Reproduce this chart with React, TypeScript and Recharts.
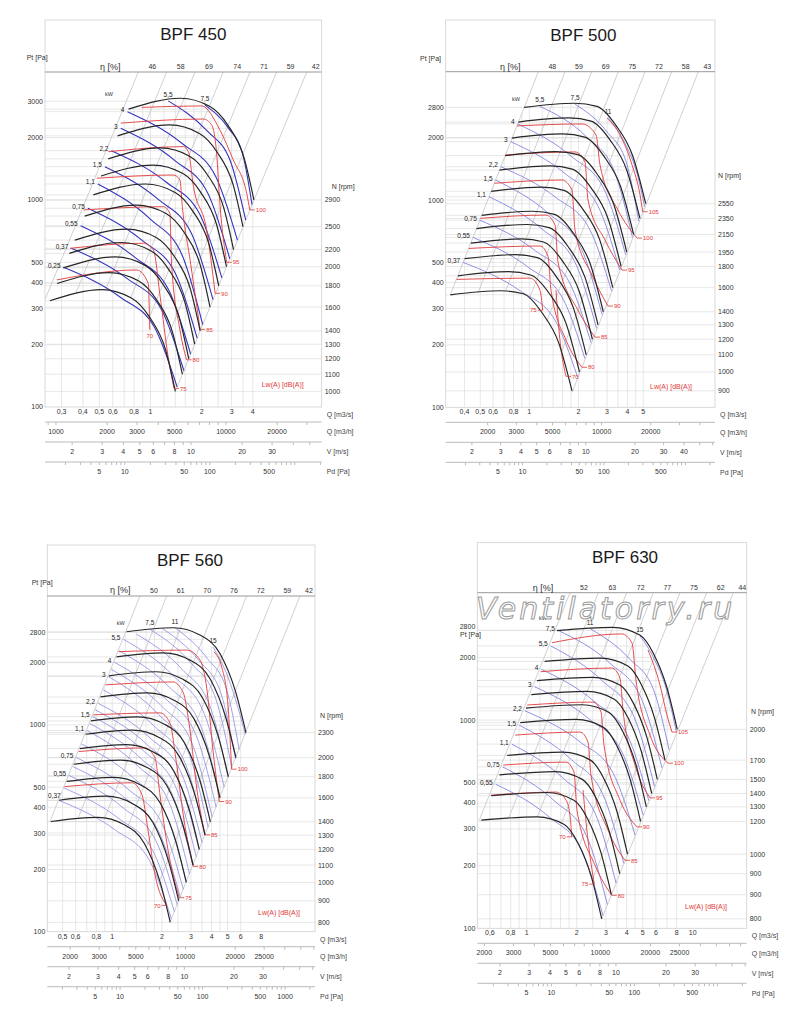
import React from 'react';
import { ComposedChart, Line, XAxis, YAxis } from 'recharts';

type Pt = [number, number];
type Curve = Pt[];

// ---------- BPF 450 ----------
const bpf450Rpm = ['2900', '2500', '2200', '2000', '1800', '1600', '1400', '1300', '1200', '1100', '1000'];
const bpf450Fan: Curve[] = [
  [[0.743, 2745], [1.5, 3100], [2.25, 2820], [2.85, 2300], [3.55, 1600], [4.06, 1000]],
  [[0.64, 2040], [1.293, 2303], [1.94, 2095], [2.457, 1709], [3.06, 1189], [3.5, 743]],
  [[0.564, 1580], [1.138, 1784], [1.707, 1623], [2.162, 1324], [2.693, 921], [3.08, 576]],
  [[0.512, 1306], [1.035, 1474], [1.552, 1341], [1.966, 1094], [2.448, 761], [2.8, 476]],
  [[0.461, 1058], [0.931, 1194], [1.397, 1087], [1.769, 886], [2.204, 616], [2.52, 385]],
  [[0.41, 836], [0.828, 944], [1.241, 858], [1.572, 700], [1.959, 487], [2.24, 304]],
  [[0.359, 640], [0.724, 723], [1.086, 657], [1.376, 536], [1.714, 373], [1.96, 233]],
  [[0.333, 552], [0.672, 623], [1.009, 567], [1.278, 462], [1.591, 322], [1.82, 201]],
  [[0.307, 470], [0.621, 531], [0.931, 483], [1.179, 394], [1.469, 274], [1.68, 171]],
  [[0.282, 395], [0.569, 446], [0.853, 406], [1.081, 331], [1.347, 230], [1.54, 144]],
  [[0.256, 326], [0.517, 369], [0.776, 335], [0.983, 273], [1.224, 190], [1.4, 119]],
];
const bpf450Kw = ['7,5', '5,5', '4', '3', '2,2', '1,5', '1,1', '0,75', '0,55', '0,37', '0,25'];
const bpf450Power: Curve[] = [
  [[2.09, 2870], [2.875, 2222], [3.483, 1674], [3.956, 950]],
  [[1.27, 3010], [2.147, 2161], [2.942, 1552], [3.63, 800]],
  [[0.732, 2670], [1.542, 1868], [2.411, 1307], [3.247, 640]],
  [[0.668, 2220], [1.398, 1545], [2.178, 1075], [2.927, 520]],
  [[0.589, 1730], [1.245, 1214], [1.95, 852], [2.63, 420]],
  [[0.539, 1448], [1.121, 1000], [1.74, 691], [2.332, 330]],
  [[0.49, 1195], [0.997, 808], [1.527, 547], [2.029, 250]],
  [[0.428, 912], [0.897, 636], [1.4, 443], [1.882, 215]],
  [[0.388, 751], [0.817, 525], [1.278, 368], [1.722, 180]],
  [[0.342, 584], [0.733, 416], [1.159, 296], [1.572, 150]],
  [[0.308, 473], [0.665, 339], [1.055, 243], [1.435, 125]],
];
const bpf450Lw = ['100', '95', '90', '85', '80', '75', '70'];
const bpf450Noise: Curve[] = [
  [[0.888, 2800], [2.0, 2845], [2.56, 2180], [3.07, 1560], [3.68, 1077], [3.84, 895]],
  [[0.668, 2350], [2.045, 2460], [2.29, 2300], [2.45, 1680], [2.56, 963], [2.81, 500]],
  [[0.565, 1710], [1.56, 1810], [1.67, 1710], [1.79, 1160], [2.14, 716], [2.4, 354]],
  [[0.483, 1273], [1.36, 1320], [1.49, 1250], [1.54, 928], [1.71, 513], [1.96, 237]],
  [[0.403, 895], [1.19, 928], [1.3, 862], [1.33, 495], [1.49, 236], [1.63, 169]],
  [[0.336, 584], [0.907, 618], [1.04, 573], [1.14, 341], [1.27, 175], [1.375, 123]],
  [[0.281, 411], [0.83, 459], [0.97, 396], [0.99, 236]],
];
const bpf450Eta = ['46', '58', '69', '74', '71', '59', '42'];
const bpf450EtaLines: Curve[] = [
  [[0.848, 4150], [0.24, 331]], [[1.245, 4150], [0.365, 357]], [[1.827, 4150], [0.545, 370]],
  [[2.68, 4150], [0.765, 338]], [[3.85, 4150], [0.98, 268]], [[5.52, 4150], [1.21, 200]], [[8.3, 4150], [1.4, 119]],
];
const bpf450QTicks = [0.3, 0.4, 0.5, 0.6, 0.8, 1, 2, 3, 4];
const bpf450PTicks = [100, 200, 300, 400, 500, 1000, 2000, 3000];
const bpf450QhTicks = [1000, 2000, 3000, 5000, 10000, 20000];
const bpf450QhLabels = ['1000', '2000', '3000', '5000', '10000', '20000'];
const bpf450VTicks = [2, 3, 4, 5, 6, 8, 10, 20, 30];
const bpf450PdTicks = [5, 10, 50, 100, 500];

// ---------- BPF 500 ----------
const bpf500Rpm = ['2550', '2350', '2150', '1950', '1800', '1600', '1400', '1300', '1200', '1100', '1000', '900'];
const bpf500Fan: Curve[] = [
  [[0.93, 2800], [1.9, 2930], [2.6, 2830], [3.4, 2290], [4.3, 1640], [5.18, 960]],
  [[0.857, 2378], [1.751, 2488], [2.396, 2404], [3.133, 1945], [3.963, 1393], [4.774, 815]],
  [[0.784, 1991], [1.602, 2083], [2.192, 2012], [2.867, 1628], [3.625, 1166], [4.367, 682]],
  [[0.711, 1637], [1.453, 1713], [1.988, 1655], [2.6, 1339], [3.288, 959], [3.961, 561]],
  [[0.656, 1395], [1.341, 1460], [1.835, 1410], [2.4, 1141], [3.035, 817], [3.657, 478]],
  [[0.584, 1102], [1.192, 1154], [1.632, 1114], [2.134, 902], [2.698, 646], [3.25, 378]],
  [[0.511, 844], [1.043, 883], [1.427, 853], [1.867, 690], [2.361, 494], [2.844, 289]],
  [[0.474, 728], [0.969, 762], [1.325, 736], [1.733, 595], [2.192, 426], [2.641, 250]],
  [[0.438, 620], [0.894, 649], [1.224, 627], [1.6, 507], [2.024, 363], [2.438, 213]],
  [[0.401, 521], [0.82, 545], [1.122, 527], [1.467, 426], [1.855, 305], [2.235, 179]],
  [[0.365, 431], [0.745, 451], [1.02, 435], [1.333, 352], [1.686, 252], [2.032, 148]],
  [[0.328, 349], [0.671, 365], [0.918, 353], [1.2, 285], [1.517, 204], [1.828, 120]],
];
const bpf500Kw = ['11', '7,5', '5,5', '4', '3', '2,2', '1,5', '1,1', '0,75', '0,55', '0,37'];
const bpf500Power: Curve[] = [
  [[3.04, 2500], [3.94, 1820], [4.6, 1330], [5.1, 930]],
  [[1.91, 2900], [2.995, 2133], [3.925, 1532], [4.698, 790]],
  [[1.16, 2830], [2.232, 2024], [3.305, 1393], [4.294, 660]],
  [[0.848, 2330], [1.819, 1620], [2.875, 1127], [3.902, 545]],
  [[0.768, 1913], [1.66, 1340], [2.634, 938], [3.585, 460]],
  [[0.669, 1448], [1.462, 1026], [2.336, 727], [3.193, 365]],
  [[0.621, 1249], [1.318, 859], [2.07, 591], [2.797, 280]],
  [[0.566, 1037], [1.211, 719], [1.91, 499], [2.589, 240]],
  [[0.497, 800], [1.091, 569], [1.748, 405], [2.393, 205]],
  [[0.451, 660], [0.994, 472], [1.598, 337], [2.192, 172]],
  [[0.393, 500], [0.882, 364], [1.431, 265], [1.978, 140]],
];
const bpf500Lw = ['105', '100', '95', '90', '85', '80', '75', '70'];
const bpf500Noise: Curve[] = [
  [[3.0, 2480], [3.6, 2061], [4.27, 1476], [4.78, 1057], [4.96, 878]],
  [[0.84, 2278], [2.105, 2328], [2.566, 2061], [2.715, 1476], [3.5, 895], [4.58, 655]],
  [[0.714, 1650], [1.908, 1706], [2.196, 1526], [2.292, 1000], [2.913, 641], [3.705, 459]],
  [[0.61, 1204], [1.587, 1249], [1.828, 1118], [1.908, 716], [2.425, 434], [3.04, 308]],
  [[0.502, 816], [1.266, 846], [1.438, 757], [1.5, 502], [1.99, 294], [2.53, 218]],
  [[0.425, 584], [1.163, 600], [1.302, 536], [1.359, 367], [1.68, 211], [2.105, 156]],
  [[0.3575, 414], [1.01, 420], [1.163, 367], [1.208, 294]],
  [[1.458, 367], [1.521, 236], [1.68, 141]],
];
const bpf500Eta = ['48', '59', '69', '75', '72', '58', '43'];
const bpf500EtaLines: Curve[] = [
  [[1.136, 4160], [0.328, 349]], [[1.656, 4160], [0.485, 357]], [[2.415, 4160], [0.715, 364]],
  [[3.516, 4160], [1.0, 335]], [[5.127, 4160], [1.28, 260]], [[7.475, 4160], [1.58, 186]], [[10.89, 4160], [1.83, 118]],
];
const bpf500QTicks = [0.4, 0.5, 0.6, 0.8, 1, 2, 3, 4, 5];
const bpf500PTicks = [100, 200, 300, 400, 500, 1000, 2000, 2800];
const bpf500QhTicks = [2000, 3000, 5000, 10000, 20000];
const bpf500QhLabels = ['2000', '3000', '5000', '10000', '20000'];
const bpf500VTicks = [2, 3, 4, 5, 6, 8, 10, 20, 30, 40];
const bpf500PdTicks = [5, 10, 50, 100, 500];

// ---------- BPF 560 ----------
const bpf560Rpm = ['2300', '2000', '1800', '1600', '1400', '1300', '1200', '1100', '1000', '900', '800'];
const bpf560Fan: Curve[] = [
  [[1.22, 2820], [2.35, 2950], [3.4, 2720], [4.5, 2210], [5.6, 1440], [6.46, 918]],
  [[1.061, 2132], [2.044, 2230], [2.957, 2057], [3.913, 1671], [4.87, 1089], [5.618, 694]],
  [[0.955, 1727], [1.839, 1807], [2.661, 1666], [3.522, 1354], [4.383, 882], [5.056, 562]],
  [[0.849, 1365], [1.635, 1428], [2.365, 1316], [3.131, 1069], [3.896, 697], [4.494, 444]],
  [[0.743, 1045], [1.43, 1093], [2.07, 1008], [2.739, 819], [3.409, 534], [3.932, 340]],
  [[0.69, 901], [1.328, 943], [1.922, 869], [2.543, 706], [3.165, 460], [3.651, 293]],
  [[0.636, 768], [1.226, 803], [1.774, 740], [2.348, 602], [2.922, 392], [3.37, 250]],
  [[0.584, 645], [1.124, 675], [1.626, 622], [2.152, 505], [2.678, 329], [3.09, 210]],
  [[0.53, 533], [1.022, 558], [1.478, 514], [1.957, 418], [2.435, 272], [2.809, 173]],
  [[0.477, 432], [0.92, 452], [1.33, 416], [1.761, 338], [2.191, 220], [2.528, 141]],
  [[0.424, 341], [0.817, 357], [1.183, 329], [1.565, 267], [1.948, 174], [2.247, 111]],
];
const bpf560Kw = ['15', '11', '7,5', '5,5', '4', '3', '2,2', '1,5', '1,1', '0,75', '0,55', '0,37'];
const bpf560Power: Curve[] = [
  [[4.08, 2380], [5.0, 1720], [5.8, 1200], [6.396, 900]],
  [[2.4, 2950], [3.756, 2102], [4.913, 1497], [5.878, 760]],
  [[1.69, 2900], [2.996, 1992], [4.223, 1350], [5.309, 620]],
  [[1.17, 2594], [2.362, 1719], [3.599, 1139], [4.767, 500]],
  [[1.03, 2009], [2.096, 1342], [3.21, 896], [4.264, 400]],
  [[0.95, 1711], [1.904, 1125], [2.888, 740], [3.814, 320]],
  [[0.82, 1273], [1.695, 864], [2.62, 586], [3.503, 270]],
  [[0.761, 1097], [1.569, 742], [2.421, 502], [3.233, 230]],
  [[0.704, 939], [1.439, 630], [2.208, 423], [2.939, 190]],
  [[0.606, 695], [1.279, 481], [2.001, 333], [2.697, 160]],
  [[0.548, 569], [1.165, 397], [1.832, 277], [2.477, 135]],
  [[0.477, 431], [1.044, 310], [1.671, 223], [2.286, 115]],
];
// unlabelled blue lines lying between the labelled ones
const bpf560PowerExtra: Curve[] = [
  [[2.014, 2925], [3.355, 2046], [4.555, 1422], [5.586, 686]],
  [[1.406, 2743], [2.66, 1850], [3.899, 1240], [5.031, 557]],
  [[1.098, 2283], [2.225, 1519], [3.399, 1010], [4.509, 447]],
  [[0.989, 1854], [1.998, 1229], [3.045, 814], [4.033, 358]],
  [[0.883, 1476], [1.796, 986], [2.751, 659], [3.655, 294]],
  [[0.79, 1182], [1.631, 801], [2.519, 542], [3.365, 249]],
  [[0.732, 1015], [1.503, 684], [2.312, 461], [3.082, 209]],
  [[0.653, 808], [1.357, 550], [2.102, 375], [2.815, 174]],
  [[0.576, 629], [1.221, 437], [1.915, 304], [2.585, 147]],
  [[0.511, 495], [1.103, 351], [1.75, 249], [2.38, 125]],
];
const bpf560Lw = ['100', '90', '85', '80', '75', '70'];
const bpf560Noise: Curve[] = [
  [[4.133, 2253], [4.622, 1886], [5.025, 1249], [5.29, 611]],
  [[1.092, 2260], [2.824, 2300], [3.4, 2061], [3.75, 1476], [4.076, 757], [4.452, 426]],
  [[0.908, 1561], [2.333, 1613], [2.683, 1443], [2.958, 946], [3.262, 485], [3.646, 294]],
  [[0.768, 1118], [1.946, 1143], [2.237, 1022], [2.433, 678], [2.72, 348], [3.097, 207]],
  [[0.626, 743], [1.578, 774], [1.815, 693], [1.946, 459], [2.176, 249], [2.547, 146]],
  [[0.515, 503], [1.316, 525], [1.514, 459], [1.646, 311], [1.815, 189], [2.137, 134]],
];
const bpf560Eta = ['50', '61', '70', '76', '72', '59', '42'];
const bpf560EtaLines: Curve[] = [
  [[1.472, 4200], [0.42, 342]], [[2.137, 4200], [0.62, 353]], [[3.097, 4200], [0.89, 347]],
  [[4.494, 4200], [1.235, 318]], [[6.523, 4200], [1.615, 258]], [[9.458, 4200], [1.935, 176]], [[13.73, 4200], [2.247, 112]],
];
const bpf560QTicks = [0.5, 0.6, 0.8, 1, 2, 3, 4, 5, 6, 8];
const bpf560PTicks = [100, 200, 300, 400, 500, 1000, 2000, 2800];
const bpf560QhTicks = [2000, 3000, 5000, 10000, 20000, 30000];
const bpf560QhLabels = ['2000', '3000', '5000', '10000', '20000', '25000'];
const bpf560VTicks = [2, 3, 4, 5, 6, 8, 10, 20, 30];
const bpf560PdTicks = [5, 10, 50, 100, 500, 1000];

// ---------- BPF 630 ----------
const bpf630Rpm = ['2000', '1700', '1500', '1400', '1300', '1200', '1000', '900', '900', '800'];
const bpf630Fan: Curve[] = [
  [[1.52, 2690], [3.3, 2790], [4.8, 2560], [5.8, 2090], [6.97, 1445], [8.07, 902]],
  [[1.282, 1914], [2.784, 1986], [4.05, 1822], [4.893, 1487], [5.881, 1028], [6.809, 642]],
  [[1.153, 1548], [2.503, 1605], [3.641, 1473], [4.399, 1203], [5.287, 831], [6.121, 519]],
  [[1.066, 1324], [2.315, 1373], [3.368, 1260], [4.069, 1029], [4.89, 711], [5.662, 444]],
  [[0.99, 1142], [2.15, 1185], [3.128, 1087], [3.779, 887], [4.542, 614], [5.258, 383]],
  [[0.914, 972], [1.984, 1008], [2.886, 925], [3.487, 755], [4.19, 522], [4.852, 326]],
  [[0.763, 677], [1.656, 702], [2.408, 644], [2.91, 526], [3.497, 364], [4.049, 227]],
  [[0.685, 546], [1.486, 566], [2.162, 519], [2.612, 424], [3.139, 293], [3.635, 183]],
  [[0.61, 433], [1.323, 449], [1.925, 412], [2.326, 336], [2.795, 232], [3.236, 145]],
  [[0.533, 331], [1.158, 343], [1.684, 315], [2.035, 257], [2.445, 178], [2.831, 111]],
];
const bpf630Kw = ['15', '11', '7,5', '5,5', '4', '3', '2,2', '1,5', '1,1', '0,75', '0,55'];
const bpf630Power: Curve[] = [
  [[4.8, 2540], [5.8, 2000], [6.97, 1390], [7.971, 880]],
  [[2.41, 2750], [4.169, 1967], [5.792, 1407], [7.21, 720]],
  [[1.54, 2700], [3.17, 1877], [4.89, 1276], [6.527, 590]],
  [[1.396, 2270], [2.868, 1539], [4.415, 1044], [5.887, 480]],
  [[1.227, 1753], [2.584, 1219], [4.04, 848], [5.441, 410]],
  [[1.115, 1446], [2.368, 1015], [3.72, 711], [5.027, 350]],
  [[0.976, 1108], [2.095, 786], [3.312, 557], [4.496, 280]],
  [[0.901, 946], [1.862, 645], [2.877, 440], [3.847, 205]],
  [[0.812, 767], [1.675, 522], [2.585, 356], [3.452, 165]],
  [[0.716, 596], [1.481, 407], [2.291, 278], [3.064, 130]],
  [[0.65, 492], [1.369, 342], [2.139, 238], [2.882, 115]],
];
const bpf630Lw = ['105', '100', '95', '90', '85', '80', '75', '70'];
const bpf630Noise: Curve[] = [
  [[5.38, 2170], [6.353, 1473], [7.0, 1057], [7.505, 876]],
  [[1.422, 2353], [3.735, 2592], [4.309, 2346], [4.554, 1557], [5.532, 847], [7.098, 621]],
  [[1.211, 1707], [3.265, 1778], [3.648, 1592], [3.803, 1117], [4.492, 608], [5.532, 423]],
  [[1.007, 1181], [2.508, 1220], [2.803, 1093], [2.922, 758], [3.648, 413], [4.618, 307]],
  [[0.853, 847], [2.095, 876], [2.34, 784], [2.44, 544], [3.09, 296], [3.91, 212]],
  [[0.7227, 608], [1.725, 628], [1.927, 562], [2.01, 369], [2.578, 201], [3.251, 144]],
  [[2.184, 461], [2.34, 265], [2.554, 163]],
  [[0.612, 436], [1.501, 451], [1.725, 413], [1.823, 349], [1.867, 275]],
];
const bpf630Eta = ['52', '63', '72', '77', '75', '62', '44'];
const bpf630EtaLines: Curve[] = [
  [[1.823, 4090], [0.52, 333]], [[2.7, 4090], [0.78, 340]], [[4.003, 4090], [1.16, 343]],
  [[5.79, 4090], [1.62, 320]], [[8.385, 4090], [2.07, 249]], [[12.14, 4090], [2.49, 172]], [[17.56, 4090], [2.831, 111]],
];
const bpf630QTicks = [0.6, 0.8, 1, 2, 3, 4, 5, 6, 8, 10];
const bpf630PTicks = [100, 200, 300, 400, 500, 1000, 2000, 2800];
const bpf630QhTicks = [2000, 3000, 5000, 10000, 20000, 30000];
const bpf630QhLabels = ['2000', '3000', '5000', '10000', '20000', '25000'];
const bpf630VTicks = [2, 3, 4, 5, 6, 8, 10, 20, 30];
const bpf630PdTicks = [5, 10, 50, 100, 500];

// vertical grid positions (Q m3/s)
const gridQ = [0.3, 0.4, 0.5, 0.6, 0.7, 0.8, 0.9, 1, 1.2, 1.4, 1.6, 1.8, 2, 2.5, 3, 3.5, 4, 4.5, 5, 6, 7, 8, 9, 10];

interface Spec {
  title: string;
  left: number;
  top: number;
  margin: { top: number; right: number; bottom: number; left: number };
  qDomain: [number, number];
  pTop: number;
  vPerQ: number;
  qTicks: number[];
  pTicks: number[];
  qhTicks: number[];
  qhLabels: string[];
  vTicks: number[];
  pdTicks: number[];
  rpm: string[];
  fan: Curve[];
  kw: string[];
  power: Curve[];
  powerExtra: Curve[];
  kwPlace: Record<string, string>;
  lw: string[];
  noise: Curve[];
  lwPlace: Record<string, string>;
  eta: string[];
  etaLines: Curve[];
  blue: string;
  blueWidth: number;
  frame: [number, number, number, number];
  text: Record<string, [number, number]>;
}

const specs: Spec[] = [
  {
    title: 'BPF 450', left: 0, top: 0,
    margin: { top: 52, right: 33.3, bottom: 18, left: 5 },
    qDomain: [0.2395, 10.17], pTop: 4150, vPerQ: 5.78,
    qTicks: bpf450QTicks, pTicks: bpf450PTicks, qhTicks: bpf450QhTicks, qhLabels: bpf450QhLabels,
    vTicks: bpf450VTicks, pdTicks: bpf450PdTicks,
    rpm: bpf450Rpm, fan: bpf450Fan, kw: bpf450Kw, power: bpf450Power, powerExtra: [],
    kwPlace: { '7,5': 'above', '5,5': 'above' },
    lw: bpf450Lw, noise: bpf450Noise, lwPlace: { '70': 'below' },
    eta: bpf450Eta, etaLines: bpf450EtaLines, blue: '#3434bd', blueWidth: 1.1,
    frame: [45, 20, 321.7, 407],
    text: { title: [193.3, 40], pt: [26.7, 60], eta: [100, 69.5], kw: [105, 96], rpm: [331.7, 189], lw: [261.7, 386.5] },
  },
  {
    title: 'BPF 500', left: 400, top: 0,
    margin: { top: 51.7, right: 40, bottom: 17.7, left: 5.7 },
    qDomain: [0.307, 13.78], pTop: 4160, vPerQ: 4.5,
    qTicks: bpf500QTicks, pTicks: bpf500PTicks, qhTicks: bpf500QhTicks, qhLabels: bpf500QhLabels,
    vTicks: bpf500VTicks, pdTicks: bpf500PdTicks,
    rpm: bpf500Rpm, fan: bpf500Fan, kw: bpf500Kw, power: bpf500Power, powerExtra: [],
    kwPlace: { '11': 'above', '7,5': 'above', '5,5': 'above' },
    lw: bpf500Lw, noise: bpf500Noise, lwPlace: { '75': 'left' },
    eta: bpf500Eta, etaLines: bpf500EtaLines, blue: '#8484e2', blueWidth: 0.9,
    frame: [445.7, 20, 715, 407.3],
    text: { title: [583.3, 41], pt: [420, 61], eta: [500, 69.5], kw: [512, 101], rpm: [718, 178], lw: [650, 389] },
  },
  {
    title: 'BPF 560', left: 0, top: 520,
    margin: { top: 56, right: 40, bottom: 13.3, left: 7.3 },
    qDomain: [0.404, 16.93], pTop: 4200, vPerQ: 3.66,
    qTicks: bpf560QTicks, pTicks: bpf560PTicks, qhTicks: bpf560QhTicks, qhLabels: bpf560QhLabels,
    vTicks: bpf560VTicks, pdTicks: bpf560PdTicks,
    rpm: bpf560Rpm, fan: bpf560Fan, kw: bpf560Kw, power: bpf560Power, powerExtra: bpf560PowerExtra,
    kwPlace: { '15': 'above', '11': 'above', '7,5': 'above', '0,37': 'tight' },
    lw: bpf560Lw, noise: bpf560Noise, lwPlace: { '70': 'left' },
    eta: bpf560Eta, etaLines: bpf560EtaLines, blue: '#8a8ae4', blueWidth: 0.8,
    frame: [47.3, 545, 315, 931.7],
    text: { title: [190, 566], pt: [31.7, 585], eta: [110, 593], kw: [116.7, 625], rpm: [320, 718], lw: [258, 915] },
  },
  {
    title: 'BPF 630', left: 400, top: 520,
    margin: { top: 52.7, right: 8.3, bottom: 16.7, left: 37.3 },
    qDomain: [0.504, 21.15], pTop: 4090, vPerQ: 2.9,
    qTicks: bpf630QTicks, pTicks: bpf630PTicks, qhTicks: bpf630QhTicks, qhLabels: bpf630QhLabels,
    vTicks: bpf630VTicks, pdTicks: bpf630PdTicks,
    rpm: bpf630Rpm, fan: bpf630Fan, kw: bpf630Kw, power: bpf630Power, powerExtra: [],
    kwPlace: { '15': 'above', '11': 'above' },
    lw: bpf630Lw, noise: bpf630Noise, lwPlace: { '75': 'left', '70': 'left' },
    eta: bpf630Eta, etaLines: bpf630EtaLines, blue: '#8484e2', blueWidth: 0.9,
    frame: [477.3, 542.7, 746.7, 928.3],
    text: { title: [625, 563], pt: [460, 636.5], eta: [532.7, 591], kw: [539, 619.5], rpm: [751, 714], lw: [685, 909] },
  },
];

const RED = '#e23a3a';
const tickFont = { fontSize: 7, fill: '#333' };
const comma = (v: number) => String(v).replace('.', ',');
const toRows = (c: Curve) => c.map(([q, p]) => ({ q, p }));

// 1..9 x 10^k ticks inside a range (small tick marks of the lower scales)
function decadeTicks(lo: number, hi: number): number[] {
  const out: number[] = [];
  for (let e = -1; e <= 5; e++) {
    for (let m = 1; m < 10; m++) {
      const v = Number((m * Math.pow(10, e)).toPrecision(3));
      if (v >= lo && v <= hi) out.push(v);
    }
  }
  return out;
}

const lerpLog = (a: Pt, b: Pt, q: number) => a[1] * Math.pow(b[1] / a[1], Math.log(q / a[0]) / Math.log(b[0] / a[0]));
const crossLog = (a: Pt, b: Pt, p: number) => a[0] * Math.pow(b[0] / a[0], Math.log(p / a[1]) / Math.log(b[1] / a[1]));

// grid lines kept inside the working area under the top curve
function buildGrid(s: Spec): Curve[] {
  const top = s.fan[0];
  const st = top[0];
  const en = top[top.length - 1];
  const kL = st[1] / (st[0] * st[0]);
  const kR = en[1] / (en[0] * en[0]);
  let pk = 0;
  top.forEach((pt, i) => { if (pt[1] > top[pk][1]) pk = i; });
  const [q0, q1] = s.qDomain;
  const out: Curve[] = [];
  gridQ.forEach((q) => {
    if (q <= q0 || q >= en[0]) return;
    let up = kL * q * q;
    for (let i = 0; i < top.length - 1; i++) {
      if (q >= top[i][0] && q <= top[i + 1][0]) up = Math.min(up, lerpLog(top[i], top[i + 1], q));
    }
    out.push([[q, 100], [q, up]]);
  });
  const starts = s.power.filter((_, i) => s.kwPlace[s.kw[i]] !== 'above').map((c) => c[0][1]);
  const levels = Array.from(new Set([...s.pTicks, ...s.fan.map((c) => c[0][1]), ...starts]))
    .filter((p) => p > 100 && p <= top[pk][1]);
  levels.forEach((p) => {
    let qe = en[0];
    if (p <= en[1]) qe = Math.sqrt(p / kR);
    else if (p <= st[1]) {
      for (let i = pk; i < top.length - 1; i++) if (p <= top[i][1] && p >= top[i + 1][1]) qe = crossLog(top[i], top[i + 1], p);
    } else {
      qe = st[0];
      for (let i = 0; i < pk; i++) if (p >= top[i][1] && p <= top[i + 1][1]) qe = crossLog(top[i], top[i + 1], p);
    }
    out.push([[q0, p], [qe, p]]);
  });
  s.fan.forEach((c) => out.push([[q0, c[c.length - 1][1]], [q1, c[c.length - 1][1]]]));
  return out;
}

const kwDot = (label: string, place: string | undefined) => (props: any) => {
  const { cx, cy, index } = props;
  if (index !== 0 || cx == null) return <g key={`k${index}`} />;
  if (place === 'above') {
    return <text key="k0" x={cx} y={cy - 4} textAnchor="middle" fontSize={6.5} fill="#222">{label}</text>;
  }
  const dx = place === 'tight' ? 1.5 : -3;
  const dy = place === 'tight' ? -2.5 : 0.5;
  return <text key="k0" x={cx + dx} y={cy + dy} textAnchor="end" fontSize={6.5} fill="#222">{label}</text>;
};

const lwDot = (label: string, last: number, place: string | undefined) => (props: any) => {
  const { cx, cy, index } = props;
  if (index !== last || cx == null) return <g key={`l${index}`} />;
  if (place === 'below') {
    return <text key="l0" x={cx} y={cy + 8} textAnchor="middle" fontSize={6} fill={RED}>{label}</text>;
  }
  const dir = place === 'left' ? -1 : 1;
  return (
    <g key="l0">
      <line x1={cx} y1={cy} x2={cx + dir * 5} y2={cy} stroke={RED} strokeWidth={0.8} />
      <text x={cx + dir * 6} y={cy + 2.2} textAnchor={dir < 0 ? 'end' : 'start'} fontSize={6} fill={RED}>{label}</text>
    </g>
  );
};

function Panel({ s }: { s: Spec }) {
  const [q0, q1] = s.qDomain;
  const qh: [number, number] = [q0 * 3600, q1 * 3600];
  const vd: [number, number] = [q0 * s.vPerQ, q1 * s.vPerQ];
  const pd: [number, number] = [0.6 * vd[0] * vd[0], 0.6 * vd[1] * vd[1]];
  const merge = (a: number[], b: number[]) => Array.from(new Set([...a, ...b])).sort((x, y) => x - y);
  const qhAll = merge(decadeTicks(qh[0], qh[1]), s.qhTicks);
  const vAll = merge(decadeTicks(vd[0], vd[1]), s.vTicks);
  const pdAll = merge(decadeTicks(pd[0], pd[1]), s.pdTicks);
  const ends = s.fan.map((c) => c[c.length - 1][1]);
  const etaTop = s.etaLines.map((l) => l[0][0]);
  const grid = buildGrid(s);
  const axisLabel = (value: string) => ({ value, position: 'right' as const, offset: 5, fontSize: 7, fill: '#444' });
  const extraAxis = {
    dataKey: 'q', type: 'number' as const, scale: 'log' as const, allowDataOverflow: true, interval: 0 as const,
    height: 20, tickSize: 3, tickMargin: 4, tick: tickFont,
    axisLine: { stroke: '#bbb' }, tickLine: { stroke: '#bbb' },
  };
  const base = { dataKey: 'p', dot: false as const, activeDot: false as const, isAnimationActive: false };
  // invisible helper series that give the lower scales their extent
  const span = (d: [number, number]) => [{ q: d[0], p: 100 }, { q: d[1], p: 100 }];

  const etaTick = (props: any) => {
    const { x, y, payload } = props;
    const i = etaTop.findIndex((v) => Math.abs(v - payload.value) < 1e-6);
    if (i < 0) return <g />;
    const off = i === s.eta.length - 1 ? 9 : 14;
    return <text x={x + off} y={y} textAnchor="middle" fontSize={7} fill="#333">{s.eta[i]}</text>;
  };

  return (
    <div style={{ position: 'absolute', left: s.left, top: s.top }}>
      <ComposedChart width={400} height={500} margin={s.margin}>
        <XAxis dataKey="q" type="number" scale="log" domain={s.qDomain} allowDataOverflow ticks={s.qTicks}
          tickFormatter={comma} interval={0} axisLine={false} tickLine={false} tickSize={0} tickMargin={2}
          height={15} tick={tickFont} label={axisLabel('Q [m3/s]')} />
        <XAxis xAxisId="a1" domain={qh} ticks={qhAll} {...extraAxis}
          tickFormatter={(v: number) => { const i = s.qhTicks.indexOf(v); return i >= 0 ? s.qhLabels[i] : ''; }}
          label={axisLabel('Q [m3/h]')} />
        <XAxis xAxisId="a2" domain={vd} ticks={vAll} {...extraAxis}
          tickFormatter={(v: number) => (s.vTicks.includes(v) ? String(v) : '')} label={axisLabel('V [m/s]')} />
        <XAxis xAxisId="a3" domain={pd} ticks={pdAll} {...extraAxis}
          tickFormatter={(v: number) => (s.pdTicks.includes(v) ? String(v) : '')} label={axisLabel('Pd [Pa]')} />
        <XAxis xAxisId="eta" dataKey="q" orientation="top" type="number" scale="log" domain={s.qDomain} allowDataOverflow
          ticks={etaTop} interval={0} height={20} tickSize={0} tickMargin={3} tickLine={false}
          axisLine={{ stroke: '#999' }} tick={etaTick} />
        <YAxis dataKey="p" type="number" scale="log" domain={[100, s.pTop]} allowDataOverflow ticks={s.pTicks}
          interval={0} width={40} axisLine={false} tickLine={false} tickSize={0} tickMargin={2} tick={tickFont} />
        <YAxis yAxisId="rpm" orientation="right" type="number" scale="log" domain={[100, s.pTop]} allowDataOverflow
          ticks={ends} interval={0} width={45} axisLine={false} tickLine={false} tickSize={0} tickMargin={3}
          tick={tickFont} tickFormatter={(v: number) => s.rpm[ends.indexOf(v)] ?? ''} />

        <Line {...base} xAxisId="a1" data={span(qh)} stroke="none" />
        <Line {...base} xAxisId="a2" data={span(vd)} stroke="none" />
        <Line {...base} xAxisId="a3" data={span(pd)} stroke="none" />

        {grid.map((g, i) => (
          <Line key={`g${i}`} {...base} data={toRows(g)} type="linear" stroke="#d6d6d6" strokeWidth={0.6} />
        ))}
        {s.etaLines.map((g, i) => (
          <Line key={`e${i}`} {...base} xAxisId="eta" data={toRows(g)} type="linear" stroke="#c4c4c4" strokeWidth={0.8} />
        ))}
        {s.powerExtra.map((c, i) => (
          <Line key={`x${i}`} {...base} data={toRows(c)} type="monotone" stroke={s.blue} strokeWidth={s.blueWidth} />
        ))}
        {s.power.map((c, i) => (
          <Line key={`b${i}`} {...base} data={toRows(c)} type="monotone" stroke={s.blue} strokeWidth={s.blueWidth}
            dot={kwDot(s.kw[i], s.kwPlace[s.kw[i]])} />
        ))}
        {s.noise.map((c, i) => (
          <Line key={`r${i}`} {...base} data={toRows(c)} type="monotone" stroke={RED} strokeWidth={0.9}
            dot={lwDot(s.lw[i], c.length - 1, s.lwPlace[s.lw[i]])} />
        ))}
        {s.fan.map((c, i) => (
          <Line key={`f${i}`} {...base} data={toRows(c)} type="monotone" stroke="#262626" strokeWidth={1.2} />
        ))}
      </ComposedChart>
    </div>
  );
}

export default function App() {
  return (
    <div style={{ position: 'absolute', left: 0, top: 0, width: 800, height: 1028, background: '#fff', overflow: 'hidden',
      fontFamily: "'Liberation Sans', Arial, sans-serif" }}>
      <svg width={800} height={1028} style={{ position: 'absolute', left: 0, top: 0 }}>
        {specs.map((s) => (
          <rect key={s.title} x={s.frame[0]} y={s.frame[1]} width={s.frame[2] - s.frame[0]} height={s.frame[3] - s.frame[1]}
            fill="none" stroke="#cfcfcf" strokeWidth={0.8} />
        ))}
      </svg>
      {specs.map((s) => <Panel key={s.title} s={s} />)}
      <svg width={800} height={1028} style={{ position: 'absolute', left: 0, top: 0, pointerEvents: 'none' }}>
        {specs.map((s) => (
          <g key={s.title}>
            <text x={s.text.title[0]} y={s.text.title[1]} textAnchor="middle" fontSize={17} fill="#1a1a1a">{s.title}</text>
            <text x={s.text.pt[0]} y={s.text.pt[1]} fontSize={7} fill="#333">Pt [Pa]</text>
            <text x={s.text.eta[0]} y={s.text.eta[1]} fontSize={9} fill="#333">η [%]</text>
            <text x={s.text.kw[0]} y={s.text.kw[1]} fontSize={5.5} fill="#333">kW</text>
            <text x={s.text.rpm[0]} y={s.text.rpm[1]} fontSize={7} fill="#333">N [rpm]</text>
            <text x={s.text.lw[0]} y={s.text.lw[1]} fontSize={7} fill={RED}>Lw(A) [dB(A)]</text>
          </g>
        ))}
        <text x={476} y={619} fontSize={30} letterSpacing={3} fontStyle="italic" fontFamily="'DejaVu Sans', sans-serif"
          fill="rgba(255,255,255,0.8)" stroke="#9a9a9a" strokeWidth={1}>Ventilatorry.ru</text>
      </svg>
    </div>
  );
}
